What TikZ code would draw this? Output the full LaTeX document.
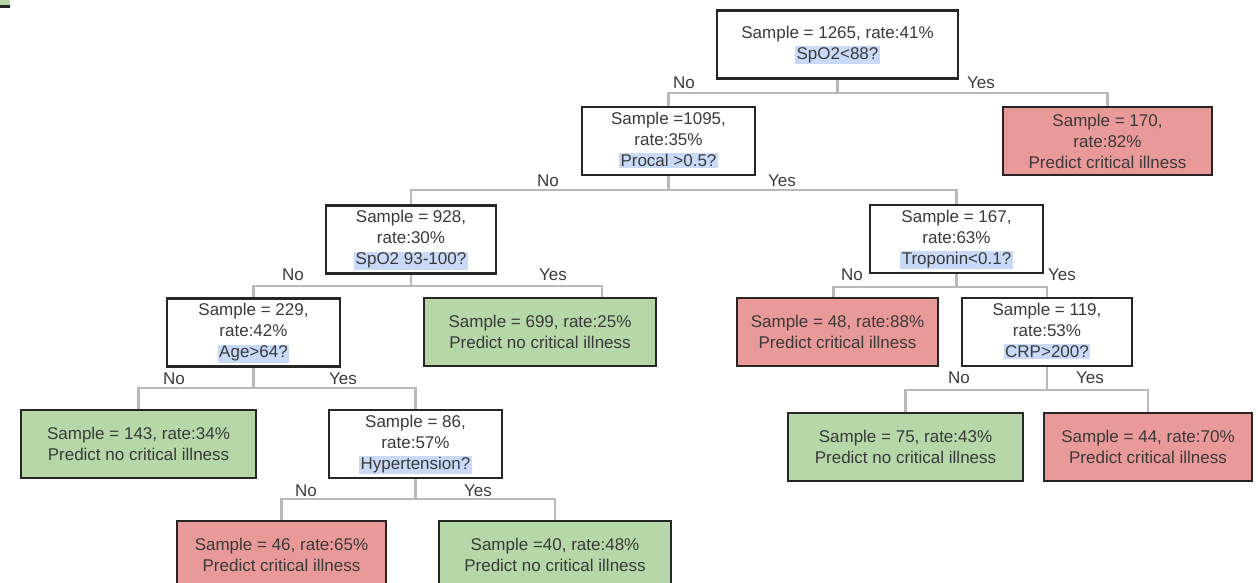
\documentclass[tikz,border=0pt]{standalone}
\usepackage{fontspec}
\setmainfont{Liberation Sans}
\usetikzlibrary{backgrounds}
\definecolor{leafgreen}{HTML}{B6D7A8}
\definecolor{leafred}{HTML}{EA9999}
\definecolor{hlblue}{HTML}{C9DAF8}
\definecolor{boxline}{HTML}{262626}
\definecolor{connline}{HTML}{B9B9B9}
\definecolor{txt}{HTML}{3A3A3A}
\newcommand{\hlq}[1]{{\setlength{\fboxsep}{1.5pt}\smash{\colorbox{hlblue}{#1}}}\vphantom{Ag}}
\tikzset{
  base/.style={draw=boxline, line width=2.6pt, inner sep=0pt, align=center, text=txt,
               font=\fontsize{17}{21}\selectfont},
  decision/.style={base, fill=white, minimum width=172pt, minimum height=68pt},
  goodleaf/.style={base, fill=leafgreen, minimum height=68pt},
  badleaf/.style={base, fill=leafred, minimum height=68pt},
  conn/.style={draw=connline, line width=2.3pt},
  lbl/.style={inner sep=0pt, text=txt, font=\fontsize{17}{19}\selectfont}
}
\begin{document}
\begin{tikzpicture}[x=1pt, y=-1pt]
\useasboundingbox (0,0) rectangle (1258,583);
\fill[leafgreen] (0,0) rectangle (10,5);
\fill[boxline] (0,5) rectangle (10,8);

% decision nodes
\node[decision, minimum width=241pt] (root) at (837.5,44.5) {Sample = 1265, rate:41\%\\\hlq{SpO2<88?}};
\node[decision, minimum width=173pt] (n1) at (668.5,141) {Sample =1095,\\rate:35\%\\\hlq{Procal >0.5?}};
\node[decision, minimum width=170pt] (n2) at (411,239.5) {Sample = 928,\\rate:30\%\\\hlq{SpO2 93-100?}};
\node[decision, minimum width=173pt] (n3) at (956.5,239) {Sample = 167,\\rate:63\%\\\hlq{Troponin<0.1?}};
\node[decision, minimum width=173pt] (n4) at (253.5,332.5) {Sample = 229,\\rate:42\%\\\hlq{Age>64?}};
\node[decision, minimum width=170pt] (n5) at (1047,332) {Sample = 119,\\rate:53\%\\\hlq{CRP>200?}};
\node[decision, minimum width=173pt] (n6) at (415.5,444) {Sample = 86,\\rate:57\%\\\hlq{Hypertension?}};

% leaves
\node[badleaf, minimum width=209pt] (l170) at (1107.5,141) {Sample = 170,\\rate:82\%\\Predict critical illness};
\node[goodleaf, minimum width=232pt] (l699) at (540,332) {Sample = 699, rate:25\%\\Predict no critical illness};
\node[badleaf, minimum width=201pt] (l48) at (837.5,332) {Sample = 48, rate:88\%\\Predict critical illness};
\node[goodleaf, minimum width=235pt] (l143) at (138.5,444) {Sample = 143, rate:34\%\\Predict no critical illness};
\node[goodleaf, minimum width=235pt] (l75) at (905.5,447) {Sample = 75, rate:43\%\\Predict no critical illness};
\node[badleaf, minimum width=208pt] (l44) at (1148,447) {Sample = 44, rate:70\%\\Predict critical illness};
\node[badleaf, minimum width=209pt] (l46) at (281.5,555) {Sample = 46, rate:65\%\\Predict critical illness};
\node[goodleaf, minimum width=232pt] (l40) at (555,555) {Sample =40, rate:48\%\\Predict no critical illness};

% bar levels
\coordinate (y0) at (0,93);
\coordinate (y1) at (0,190);
\coordinate (y2) at (0,286);
\coordinate (y3) at (0,287);
\coordinate (y4) at (0,388);
\coordinate (y5) at (0,390);
\coordinate (y6) at (0,499);

\begin{scope}[on background layer]
\draw[conn] (root.south) -- (root.south |- y0) -| (n1.north);
\draw[conn] (root.south) -- (root.south |- y0) -| (l170.north);
\draw[conn] (n1.south) -- (n1.south |- y1) -| (n2.north);
\draw[conn] (n1.south) -- (n1.south |- y1) -| (n3.north);
\draw[conn] (n2.south) -- (n2.south |- y2) -| (n4.north);
\draw[conn] (n2.south) -- (n2.south |- y2) -| ([xshift=62pt]l699.north);
\draw[conn] (n3.south) -- (n3.south |- y3) -| ([xshift=-4pt]l48.north);
\draw[conn] (n3.south) -- (n3.south |- y3) -| (n5.north);
\draw[conn] (n4.south) -- (n4.south |- y4) -| (l143.north);
\draw[conn] (n4.south) -- (n4.south |- y4) -| (n6.north);
\draw[conn] (n5.south) -- (n5.south |- y5) -| (l75.north);
\draw[conn] (n5.south) -- (n5.south |- y5) -| (l44.north);
\draw[conn] (n6.south) -- (n6.south |- y6) -| (l46.north);
\draw[conn] (n6.south) -- (n6.south |- y6) -| (l40.north);
\end{scope}

% branch labels
\node[lbl] (t0n) at (684,83) {No};
\node[lbl] (t0y) at (981,83) {Yes};
\node[lbl] (t1n) at (548,181) {No};
\node[lbl] (t1y) at (782,181) {Yes};
\node[lbl] (t2n) at (293,275) {No};
\node[lbl] (t2y) at (553,275) {Yes};
\node[lbl] (t3n) at (852,275) {No};
\node[lbl] (t3y) at (1062,275) {Yes};
\node[lbl] (t4n) at (174,379) {No};
\node[lbl] (t4y) at (343,379) {Yes};
\node[lbl] (t5n) at (959,378) {No};
\node[lbl] (t5y) at (1090,378) {Yes};
\node[lbl] (t6n) at (306,491) {No};
\node[lbl] (t6y) at (478,491) {Yes};
\end{tikzpicture}
\end{document}
